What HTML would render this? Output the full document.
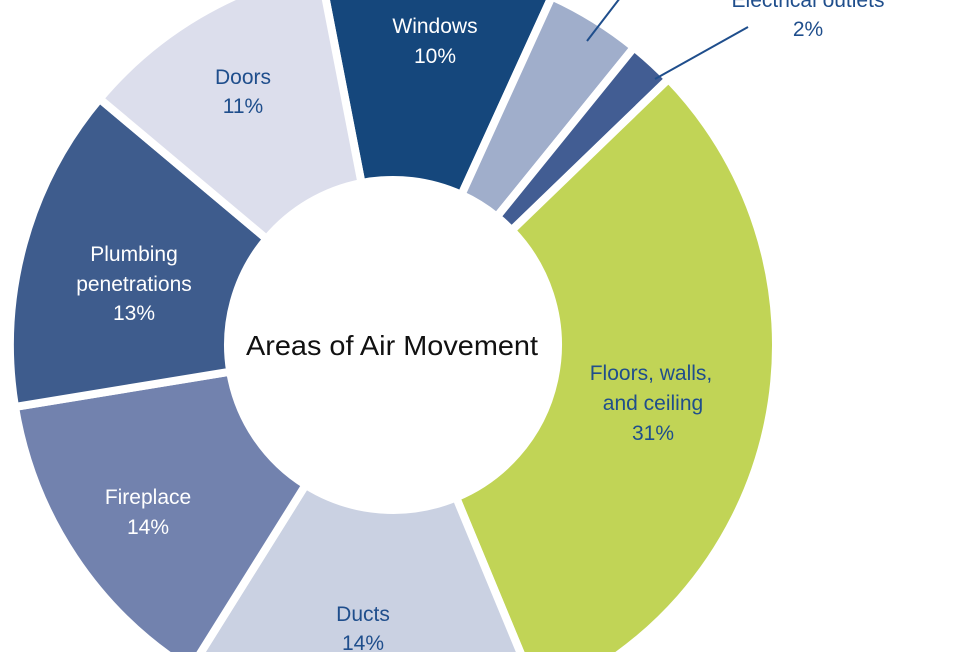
<!DOCTYPE html>
<html><head><meta charset="utf-8"><style>
html,body{margin:0;padding:0;background:#fff;width:978px;height:652px;overflow:hidden;}
svg{display:block;overflow:hidden;}
text{font-family:"Liberation Sans Narrow","Liberation Sans",sans-serif;text-anchor:middle;}
</style></head><body>
<svg width="978" height="652" viewBox="0 0 978 652" xmlns="http://www.w3.org/2000/svg">
<g stroke="#fff" stroke-width="8" stroke-linejoin="miter">
<path fill="#15477c" d="M319.9,-31 A383,383 0 0 1 551.8,-3.5 L461.4,194.8 A165,165 0 0 0 361.5,183 Z"/>
<path fill="#a0aecb" d="M551.8,-3.5 A383,383 0 0 1 634,47.4 L496.8,216.8 A165,165 0 0 0 461.4,194.8 Z"/>
<path fill="#425d93" d="M634,47.4 A383,383 0 0 1 668.5,79 L511.7,230.4 A165,165 0 0 0 496.8,216.8 Z"/>
<path fill="#c1d456" d="M668.5,79 A383,383 0 0 1 539.6,698.9 L456.1,497.4 A165,165 0 0 0 511.7,230.4 Z"/>
<path fill="#cad1e2" d="M539.6,698.9 A383,383 0 0 1 190,669.8 L305.6,484.9 A165,165 0 0 0 456.1,497.4 Z"/>
<path fill="#7282ae" d="M190,669.8 A383,383 0 0 1 15,406.9 L230.2,371.7 A165,165 0 0 0 305.6,484.9 Z"/>
<path fill="#3e5c8d" d="M15,406.9 A383,383 0 0 1 99.6,98.8 L266.6,238.9 A165,165 0 0 0 230.2,371.7 Z"/>
<path fill="#dcdeec" d="M99.6,98.8 A383,383 0 0 1 319.9,-31 L361.5,183 A165,165 0 0 0 266.6,238.9 Z"/>
</g>
<g stroke="#1f4e8c" stroke-width="2">
<line x1="587" y1="41" x2="620" y2="-2"/>
<line x1="655" y1="79" x2="748" y2="27"/>
</g>
<g font-size="21">
<text x="435" y="33" fill="#fff">Windows</text>
<text x="435" y="63" fill="#fff">10%</text>
<text x="243" y="84" fill="#1f4e8c">Doors</text>
<text x="243" y="113" fill="#1f4e8c">11%</text>
<text x="134" y="261" fill="#fff">Plumbing</text>
<text x="134" y="291" fill="#fff">penetrations</text>
<text x="134" y="320" fill="#fff">13%</text>
<text x="148" y="504" fill="#fff">Fireplace</text>
<text x="148" y="534" fill="#fff">14%</text>
<text x="363" y="621" fill="#1f4e8c">Ducts</text>
<text x="363" y="650" fill="#1f4e8c">14%</text>
<text x="651" y="380" fill="#1f4e8c">Floors, walls,</text>
<text x="653" y="410" fill="#1f4e8c">and ceiling</text>
<text x="653" y="440" fill="#1f4e8c">31%</text>
<text x="808" y="7" fill="#1f4e8c">Electrical outlets</text>
<text x="808" y="36" fill="#1f4e8c">2%</text>
</g>
<text x="392" y="355" font-size="28" fill="#111" textLength="292" lengthAdjust="spacingAndGlyphs">Areas of Air Movement</text>
</svg>
</body></html>
